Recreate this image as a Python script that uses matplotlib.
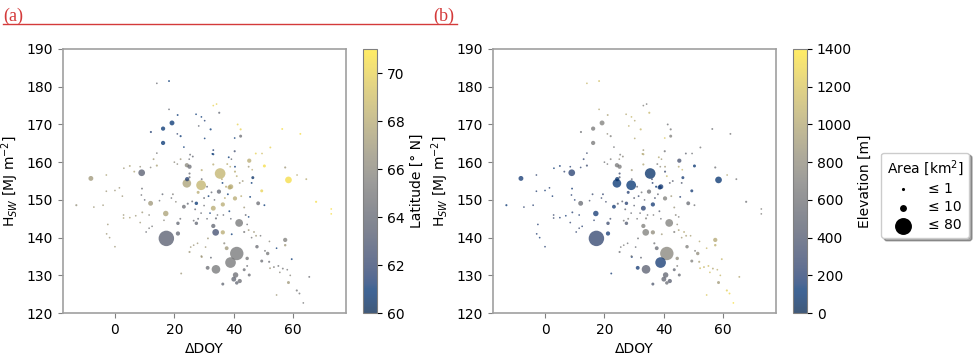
import matplotlib
matplotlib.use("Agg")
import matplotlib.pyplot as plt
import numpy as np

plt.rcParams['font.family'] = ['DejaVu Sans']
plt.rcParams['font.size'] = 10

# glacier points: dDOY, H_SW, area (km2), latitude (deg N), elevation (m)
delta_doy = [14.1, 18.2, 18.2, 19.2, 16.2, 12.1, 16.2, 21.1, 22.1, 21.0, 23.2, 27.3, 29.1, 30.2, 28.2,
             33.1, 34.2, 35.1, 32.2, 41.3, 42.3, 42.3, 40.3, 30.2, 33.1, 33.1, 40.3, 47.4, 49.5, 52.3,
             56.3, 62.4, 45.2, 50.3, 57.3, 61.3, 58.4, 64.4, 46.4, 46.0, 38.3, 39.2, 40.4, 45.0, 46.2,
             40.4, 41.0, 35.4, 29.2, 29.2, 33.1, 37.8, 38.8, 36.0, 36.2, 39.0, 42.0, 43.0, 67.7, 72.8,
             72.8, 49.4, 48.2, 50.3, 45.5, 33.1, 36.3, 40.4, 38.0, 35.0, 38.6, 37.4, 32.8, 34.0, 33.1,
             36.3, 33.9, 39.3, 37.6, 36.8, 31.3, 29.2, 32.3, 41.8, 41.0, 38.9, 34.0, 31.2, 40.6, 40.0,
             42.0, 41.0, 43.5, 45.2, 36.3, 47.8, 57.3, 57.3, 51.4, 50.5, 49.4, 51.9, 54.4, 59.5, 53.5,
             55.0, 56.5, 55.5, 58.0, 59.0, 52.2, 58.4, 61.2, 62.1, 63.4, 54.4, 65.4, 46.8, 47.5, 46.0,
             44.5, 44.5, 49.0, 52.0, 9.0, -8.1, -13.0, -7.1, -4.0, -2.9, -2.9, 0.0, 1.5, 2.5, 3.0,
             5.0, 6.5, 8.5, 12.0, 13.0, 14.1, 14.1, 9.1, 8.9, 12.0, 9.2, 2.9, 2.9, 5.0, 7.0,
             11.5, 17.1, 16.5, 21.2, 21.2, 17.3, 22.0, 27.4, 27.4, 23.2, 24.5, -2.4, -2.8, -1.8, 0.0,
             10.5, 11.5, 12.5, 8.5, 25.1, 25.5, 26.5, 27.8, 29.1, 22.3, 30.5, 26.5, 28.0, 26.0, 19.0,
             19.5, 20.5, 16.0, 15.0, 10.0, 24.2, 25.1, 25.3, 26.2, 25.0, 22.1, 21.0, 20.0, 24.2, 24.3,
             29.0, 25.1, 25.1, 28.0, 30.0, 31.5, 31.0, 32.5, 33.5, 27.0, 29.0, 31.0, 32.0, 34.5, 30.0,
             36.5, 37.0, 38.5, 39.0, 42.5, 43.5, 44.0, 44.5, 45.0, 43.5, 45.0]
h_sw = [180.9, 181.5, 174.0, 170.4, 168.9, 168.0, 165.1, 172.5, 166.9, 167.5, 164.0, 172.7, 172.0, 171.0, 169.6,
        175.0, 175.4, 173.1, 168.7, 170.0, 168.7, 166.9, 166.4, 166.3, 163.2, 162.1, 162.9, 162.3, 162.3, 163.9,
        168.8, 167.5, 160.4, 159.0, 158.6, 156.6, 155.3, 155.5, 155.9, 154.5, 161.3, 160.8, 158.8, 158.8, 158.0,
        157.5, 156.3, 157.0, 157.9, 155.5, 159.4, 159.5, 158.8, 155.5, 154.5, 153.5, 154.5, 155.0, 149.5, 147.6,
        146.3, 152.4, 149.1, 148.6, 150.8, 147.8, 148.8, 150.4, 151.5, 152.2, 153.3, 153.5, 162.2, 145.1, 143.1,
        141.4, 141.4, 140.9, 137.2, 138.5, 139.8, 134.9, 134.7, 143.9, 135.8, 133.4, 131.6, 132.0, 130.1, 129.0,
        128.5, 128.0, 131.5, 130.1, 127.7, 137.6, 139.4, 138.0, 135.8, 136.5, 133.8, 133.6, 137.2, 134.3, 132.2,
        132.5, 131.8, 130.8, 131.5, 130.0, 131.9, 128.1, 126.0, 125.2, 122.7, 124.8, 129.6, 141.5, 140.5, 140.0,
        134.5, 132.5, 140.5, 139.0, 157.2, 155.7, 148.6, 148.1, 148.6, 156.6, 152.3, 152.5, 153.2, 151.0, 158.4,
        159.0, 157.5, 158.8, 158.6, 160.8, 159.1, 162.4, 153.0, 151.3, 149.1, 146.7, 146.0, 145.2, 145.3, 145.8,
        146.0, 146.4, 144.6, 143.8, 141.1, 139.8, 145.0, 143.8, 149.1, 148.2, 149.0, 143.5, 141.0, 140.0, 137.6,
        141.5, 142.5, 143.0, 144.0, 136.2, 137.5, 138.0, 138.5, 135.1, 130.5, 137.5, 144.5, 145.0, 149.6, 150.5,
        151.5, 149.5, 151.5, 149.8, 150.0, 159.2, 158.8, 162.0, 161.5, 160.8, 160.8, 159.5, 160.0, 154.4, 155.5,
        153.9, 157.0, 156.0, 152.0, 150.5, 151.0, 153.5, 152.0, 150.0, 147.5, 146.5, 145.0, 146.5, 146.0, 148.5,
        146.0, 150.5, 147.0, 145.0, 151.0, 148.0, 146.0, 143.5, 145.5, 141.5, 142.0]
area = [1, 1.2, 1, 8, 6, 1.5, 6, 1.2, 1.5, 1, 1, 1, 1, 1, 1,
        1, 1, 1.5, 1.5, 1.2, 1.5, 3, 1, 1, 1.2, 1.5, 1.5, 1.2, 1, 1.2,
        1.2, 1.2, 6, 3, 1.5, 1, 15, 1.2, 3, 1.2, 1.2, 1, 1.2, 1.2, 1,
        1.5, 1.2, 38, 1.5, 1.2, 1.5, 1.2, 1, 1.2, 1.2, 8, 1.2, 1.2, 1.5, 1,
        1, 3, 5, 1.2, 1.2, 8, 6, 6, 1.2, 6, 6, 1.5, 1.2, 1.5, 6,
        6, 15, 1.2, 5, 1.5, 1.2, 1.5, 1.2, 20, 60, 38, 25, 5, 10, 8,
        6, 4, 3, 3, 3, 4, 6, 2, 4, 1.2, 3, 1.5, 1, 1.2, 1.2,
        1.2, 1.2, 1, 1, 1, 1.2, 3, 1.5, 1.2, 1, 1, 1.2, 1.2, 1.2, 1,
        4, 1.2, 1, 1, 15, 8, 1.5, 1, 1, 1, 1, 1, 1, 1, 1,
        1.2, 1.2, 1, 1, 1.2, 1.5, 1, 1.2, 1, 8, 1.2, 1, 1, 1, 1,
        1, 10, 1, 4, 6, 80, 1.2, 4, 4, 5, 1.5, 1, 1, 1, 1,
        1, 1, 1, 1, 1.5, 1, 1, 1, 1.2, 1.2, 1, 1.2, 1.2, 1.2, 1,
        1.2, 1, 1.2, 1, 1, 6, 6, 1.2, 1.2, 1, 1.2, 1, 1, 25, 6,
        32, 1.5, 1.5, 3, 1.2, 1.2, 1.2, 1.2, 1, 1.2, 1, 1, 1, 1, 1,
        1, 1.2, 1.2, 1, 1.2, 1.2, 1.2, 1, 1, 1.5, 1.2]
latitude = [64.5, 61.0, 64.0, 61.0, 61.0, 61.5, 61.0, 61.0, 61.0, 62.0, 61.0, 61.0, 61.0, 61.5, 64.0,
            70.0, 70.0, 64.0, 61.0, 70.0, 70.0, 64.5, 61.0, 61.0, 61.5, 61.0, 62.5, 70.0, 69.0, 70.0,
            70.5, 70.5, 68.0, 70.5, 67.0, 68.0, 70.5, 68.0, 60.5, 61.0, 61.0, 64.0, 61.0, 67.0, 68.0,
            68.0, 68.0, 68.5, 68.0, 64.0, 68.0, 68.0, 68.0, 68.0, 61.0, 68.0, 67.0, 67.0, 70.5, 70.5,
            70.5, 70.0, 64.5, 61.0, 61.0, 68.0, 68.0, 68.0, 61.0, 64.0, 68.0, 68.0, 61.0, 64.0, 64.0,
            68.0, 62.5, 61.0, 67.0, 66.0, 67.0, 67.0, 64.0, 65.0, 65.0, 65.0, 65.0, 64.5, 64.5, 64.0,
            64.5, 64.0, 64.5, 64.5, 64.0, 64.5, 65.5, 67.0, 65.0, 65.0, 64.5, 64.5, 61.0, 61.0, 65.5,
            65.0, 65.0, 66.0, 65.0, 66.0, 67.0, 67.0, 65.0, 65.0, 65.0, 67.0, 64.5, 67.0, 67.0, 65.0,
            65.0, 64.5, 65.0, 66.0, 63.5, 67.0, 66.5, 67.0, 67.0, 67.5, 67.0, 67.0, 67.0, 67.0, 67.0,
            67.5, 67.5, 66.5, 66.0, 67.0, 67.5, 65.0, 64.5, 64.5, 67.0, 67.0, 67.0, 67.5, 67.5, 67.0,
            66.0, 67.5, 66.0, 64.0, 64.0, 63.5, 64.5, 64.0, 61.0, 64.5, 64.0, 67.0, 67.0, 67.0, 67.0,
            64.5, 65.0, 65.0, 67.0, 67.0, 67.0, 67.0, 67.0, 67.0, 67.0, 67.0, 64.5, 64.0, 64.0, 64.5,
            65.5, 66.0, 64.0, 65.0, 64.0, 66.0, 64.5, 64.5, 64.0, 64.5, 67.0, 66.0, 66.0, 67.5, 61.5,
            68.5, 64.5, 64.5, 68.0, 64.0, 61.0, 64.0, 64.0, 64.0, 64.0, 64.0, 64.0, 61.0, 64.5, 64.5,
            64.0, 68.0, 61.0, 64.0, 68.0, 67.0, 64.0, 64.5, 61.0, 65.0, 67.0]
elevation = [1100, 1150, 1000, 700, 650, 600, 650, 950, 700, 800, 600, 1000, 1100, 1000, 1050,
             700, 650, 1100, 1100, 600, 650, 700, 1200, 1000, 900, 1000, 600, 500, 600, 650,
             600, 650, 350, 100, 600, 1000, 100, 650, 150, 400, 1000, 900, 900, 1000, 1100,
             300, 1100, 80, 900, 500, 1000, 700, 800, 300, 200, 150, 500, 450, 600, 700,
             700, 150, 550, 600, 200, 200, 150, 700, 500, 600, 150, 100, 1000, 700, 700,
             800, 700, 900, 550, 600, 600, 150, 500, 700, 750, 150, 450, 150, 500, 500,
             450, 550, 500, 550, 400, 700, 1000, 1050, 800, 700, 700, 950, 1100, 1100, 1100,
             1150, 1000, 1150, 1050, 1100, 1150, 900, 1250, 1300, 1350, 1200, 1000, 1000, 950, 900,
             800, 700, 950, 1000, 200, 150, 100, 250, 200, 250, 200, 150, 200, 150, 100,
             150, 250, 200, 250, 250, 300, 300, 150, 200, 550, 200, 300, 300, 200, 150,
             200, 150, 250, 300, 150, 250, 350, 400, 200, 150, 500, 200, 200, 150, 200,
             250, 300, 200, 250, 600, 650, 700, 600, 700, 150, 550, 650, 700, 450, 300,
             250, 350, 300, 400, 200, 650, 650, 700, 750, 800, 700, 650, 600, 120, 80,
             120, 300, 400, 200, 400, 300, 500, 600, 500, 500, 550, 600, 550, 600, 450,
             650, 400, 450, 600, 900, 850, 750, 800, 700, 700, 950]

lat_ticks = [60, 62, 64, 66, 68, 70]
elev_ticks = [0, 200, 400, 600, 800, 1000, 1200, 1400]
legend_areas = [1, 10, 80]
SIZE = 1.55  # marker area (pt^2) per km2

x = np.array(delta_doy)
y = np.array(h_sw)
s = np.array(area) * SIZE

fig = plt.figure(figsize=(9.73, 3.55), dpi=100)

panels = [
    (0.0647, 0.373, latitude, 60, 71, lat_ticks, 'Latitude [° N]'),
    (0.5067, 0.815, elevation, 0, 1400, elev_ticks, 'Elevation [m]'),
]
for left, cleft, col, vmin, vmax, ticks, clabel in panels:
    ax = fig.add_axes([left, 0.118, 0.291, 0.744])
    sc = ax.scatter(x, y, s=s, c=col, cmap='cividis', vmin=vmin, vmax=vmax,
                    alpha=0.75, edgecolors='none')
    ax.set_xlim(-17.5, 77.8)
    ax.set_ylim(120, 190)
    ax.set_xticks([0, 20, 40, 60])
    ax.set_yticks(range(120, 191, 10))
    ax.set_xlabel('ΔDOY')
    ax.set_ylabel('H$_{SW}$ [MJ m$^{-2}$]')
    for sp in ax.spines.values():
        sp.set_color('#a0a0a0')
        sp.set_linewidth(1.2)
    ax.tick_params(color='#808080')
    cax = fig.add_axes([cleft, 0.118, 0.0144, 0.744])
    cb = fig.colorbar(sc, cax=cax)
    cb.set_ticks(ticks)
    cb.set_label(clabel)
    cb.outline.set_edgecolor('#808080')

# size legend
handles = [plt.scatter([], [], s=a * SIZE, c='k') for a in legend_areas]
fig.legend(handles, ['≤ 1', '≤ 10', '≤ 80'], title='Area [km$^2$]',
           loc='center', bbox_to_anchor=(0.951, 0.45), frameon=True,
           shadow=True, fontsize=10, title_fontsize=10, labelspacing=0.3,
           handletextpad=0.8, borderpad=0.4)

red = '#d43a3a'
fig.text(0.003, 0.94, '(a)', color=red, fontsize=13, family='Liberation Serif')
fig.text(0.445, 0.94, '(b)', color=red, fontsize=13, family='Liberation Serif')
fig.add_artist(plt.Line2D([0.003, 0.47], [0.932, 0.932], color=red, lw=1,
                          transform=fig.transFigure))

fig.savefig('out.png', dpi=100)
